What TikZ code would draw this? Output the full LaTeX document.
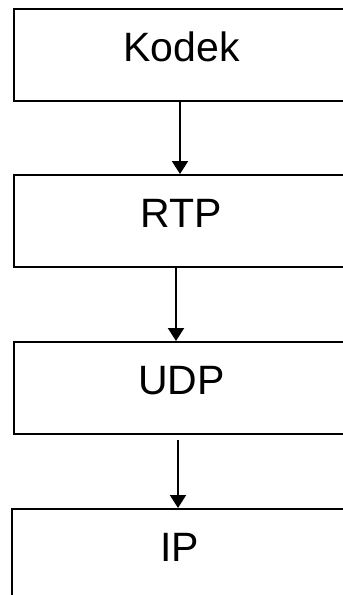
\documentclass[tikz,border=0pt]{standalone}
\usepackage{fontspec}
\setmainfont{Liberation Sans}
\usetikzlibrary{arrows.meta}
\begin{document}
\begin{tikzpicture}[x=1pt,y=1pt,
    layer/.style={draw,line width=2pt,rectangle,anchor=north west,inner sep=0pt,
      minimum width=336pt,text height=52pt,text depth=40pt,
      font=\fontsize{41}{48}\selectfont},
    flow/.style={line width=2pt,-{Triangle[width=16pt,length=13pt]}}]
      \useasboundingbox (0,0) rectangle (343,-595);
      \clip (0,0) rectangle (343,-595);
      \draw
        (12.5,-8) node[layer] (kodek){Kodek}
        (12.5,-174) node[layer] (rtp){RTP}
        (12.5,-341) node[layer] (udp){UDP}
        (10.7,-508) node[layer] (ip){IP};
      \begin{scope}[flow]
        \draw ([xshift=-1.5pt]kodek.south) to ([xshift=-1.5pt]rtp.north);
        \draw ([xshift=-5.5pt]rtp.south) to ([xshift=-5.5pt]udp.north);
        \draw[shorten <=5pt] ([xshift=-3.5pt]udp.south) to ([xshift=-1.7pt]ip.north);
      \end{scope}
    \end{tikzpicture}
\end{document}
